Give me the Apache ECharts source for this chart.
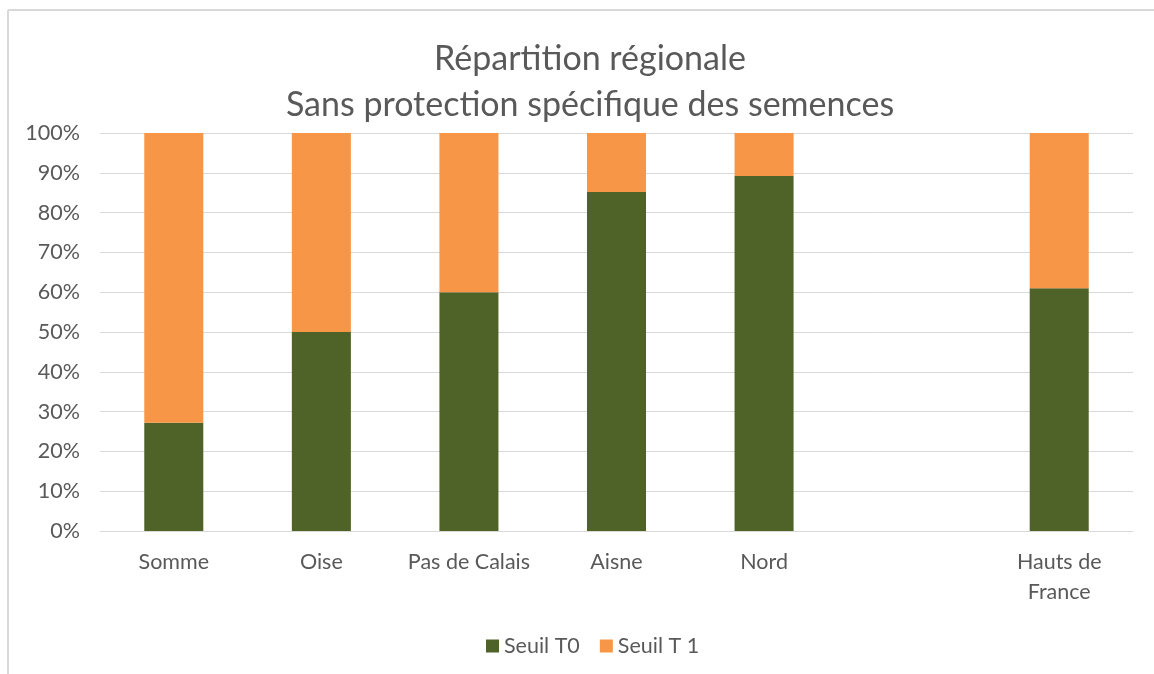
<!DOCTYPE html>
<html>
<head>
<meta charset="utf-8">
<script src="https://cdn.jsdelivr.net/npm/echarts@6/dist/echarts.min.js"></script>
<style>
	html, body { margin: 0; padding: 0; background: #fff; }
	#chart { width: 1154px; height: 674px; }
</style>
</head>
<body>
<div id="chart"></div>
<script>
// regions (the empty slot keeps the gap before Hauts de France)
var regions = ['Somme', 'Oise', 'Pas de Calais', 'Aisne', 'Nord', '', 'Hauts de\nFrance'];
// share of each threshold, in percent
var seuilT0 = [27.2, 50, 60, 85.2, 89.2, null, 61];
var seuilT1 = [72.8, 50, 40, 14.8, 10.8, null, 39];
var yTicks = [0, 10, 20, 30, 40, 50, 60, 70, 80, 90, 100];

var font = 'Lato';
var textColor = '#595959';

var chart = echarts.init(document.getElementById('chart'));

chart.setOption({
	animation: false,
	title: {
		text: 'Répartition régionale\nSans protection spécifique des semences',
		left: 585,
		top: 31,
		textAlign: 'center',
		textStyle: {
			fontFamily: font,
			fontSize: 34,
			fontWeight: 'normal',
			color: textColor,
			lineHeight: 46
		}
	},
	legend: {
		data: ['Seuil T0', 'Seuil T 1'],
		left: 481,
		top: 630,
		itemWidth: 13,
		itemHeight: 13,
		itemGap: 20,
		icon: 'rect',
		textStyle: { fontFamily: font, fontSize: 21.5, color: textColor }
	},
	grid: { left: 100, right: 21, top: 133, bottom: 143 },
	xAxis: {
		type: 'category',
		data: regions,
		axisTick: { show: false },
		axisLine: { lineStyle: { color: '#d9d9d9', width: 1 } },
		axisLabel: {
			fontFamily: font,
			fontSize: 21.5,
			color: textColor,
			margin: 16,
			lineHeight: 30,
			interval: 0
		}
	},
	yAxis: {
		type: 'value',
		min: 0,
		max: 100,
		interval: 10,
		axisLine: { show: false },
		axisTick: { show: false },
		splitLine: { lineStyle: { color: '#d9d9d9', width: 1 } },
		axisLabel: {
			fontFamily: font,
			fontSize: 21.5,
			color: textColor,
			margin: 20,
			formatter: function (v) { return yTicks.indexOf(v) >= 0 ? v + '%' : ''; }
		}
	},
	series: [
		{
			name: 'Seuil T0',
			type: 'bar',
			stack: 'total',
			barWidth: '40%',
			itemStyle: { color: '#4f6228' },
			data: seuilT0
		},
		{
			name: 'Seuil T 1',
			type: 'bar',
			stack: 'total',
			barWidth: '40%',
			itemStyle: { color: '#f79646' },
			data: seuilT1
		}
	],
	graphic: [
		{ type: 'line', shape: { x1: 8, y1: 10, x2: 1154, y2: 10 }, style: { stroke: '#d9d9d9', lineWidth: 2 } },
		{ type: 'line', shape: { x1: 8, y1: 10, x2: 8, y2: 674 }, style: { stroke: '#d9d9d9', lineWidth: 2 } }
	]
});
</script>
</body>
</html>
